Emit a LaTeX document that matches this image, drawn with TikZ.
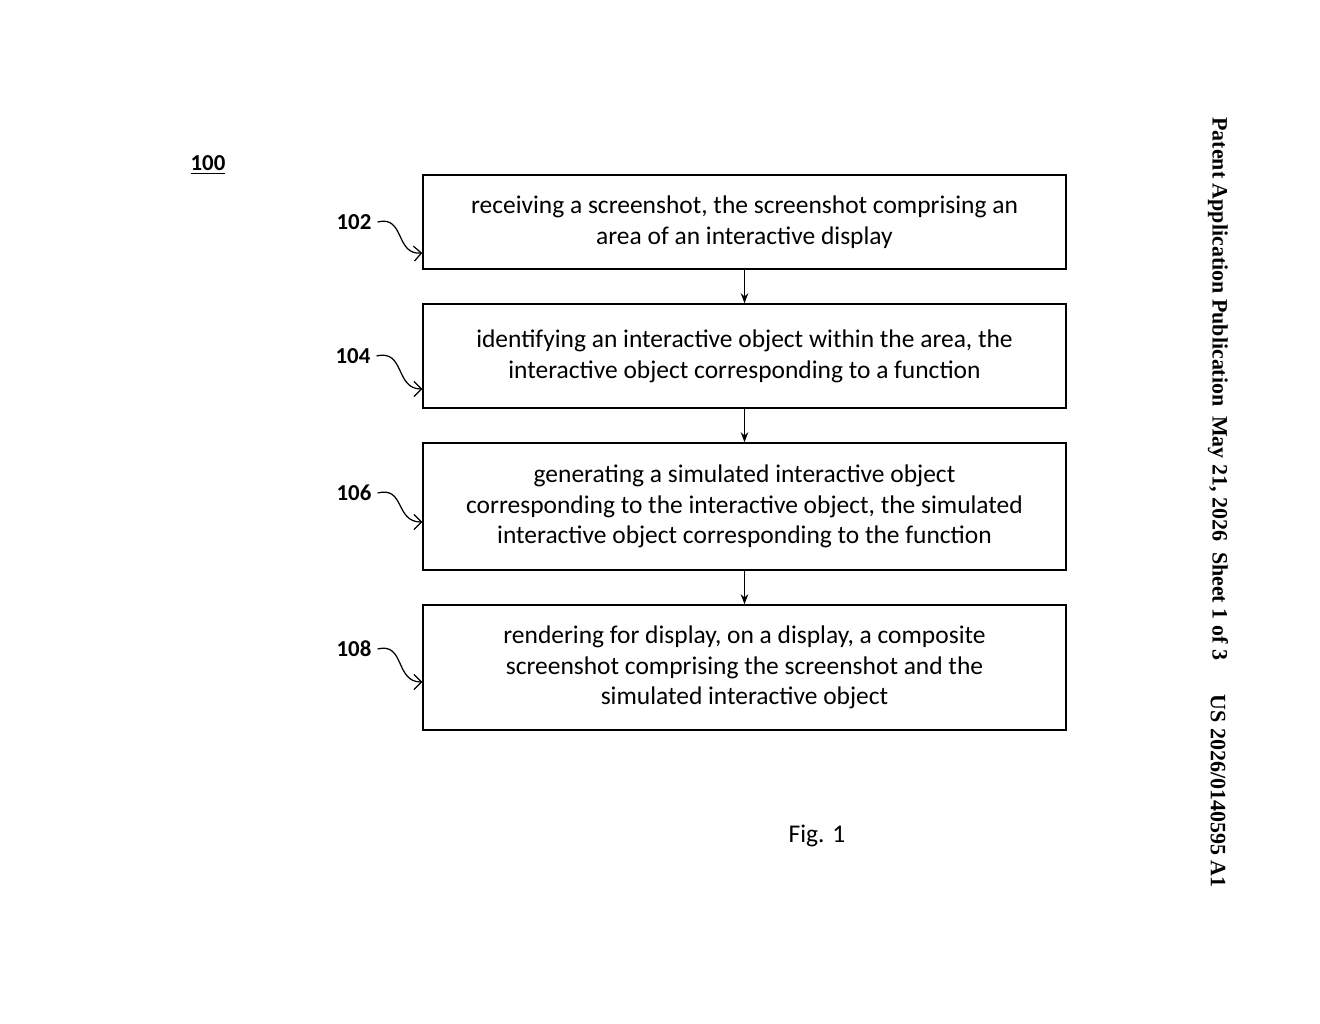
\documentclass[tikz,border=0pt]{standalone}
\usepackage{fontspec}
\setmainfont{Carlito}
\newfontfamily\hdrfont{Liberation Serif}
\usetikzlibrary{arrows.meta,positioning}
\begin{document}
\begin{tikzpicture}[x=0.02cm,y=-0.02cm]
\tikzstyle{stepbox} = [draw, line width=0.9pt, minimum width=12.86cm, align=center, font=\fontsize{14.5}{17.5}\selectfont, inner sep=0pt]
\tikzstyle{tag} = [font=\bfseries\fontsize{13}{15}\selectfont]
\tikzstyle{lead} = [-{Straight Barb[length=1.5mm]}, line width=0.7pt]
\useasboundingbox (0,0) rectangle (1320,1024);
% boxes
\node[stepbox, minimum height=94*0.02cm] (s1) at (744.5,222) {receiving a screenshot, the screenshot comprising an\\area of an interactive display};
\node[stepbox, minimum height=104*0.02cm] (s2) at (744.5,356) {identifying an interactive object within the area, the\\interactive object corresponding to a function};
\node[stepbox, minimum height=127*0.02cm] (s3) at (744.5,506.5) {generating a simulated interactive object\\corresponding to the interactive object, the simulated\\interactive object corresponding to the function};
\node[stepbox, minimum height=125*0.02cm] (s4) at (744.5,667.5) {rendering for display, on a display, a composite\\screenshot comprising the screenshot and the\\simulated interactive object};
\draw[-{Stealth[length=2mm]}, line width=0.7pt] (s1) -- (s2);
\draw[-{Stealth[length=2mm]}, line width=0.7pt] (s2) -- (s3);
\draw[-{Stealth[length=2mm]}, line width=0.7pt] (s3) -- (s4);
% reference numerals
\node[tag] (n102) at (354,222) {102};
\node[tag] (n104) at (353,356) {104};
\node[tag] (n106) at (354,493) {106};
\node[tag] (n108) at (354,649) {108};
\draw[lead] (n102.east) .. controls (405,215) and (395,255) .. (s1.west |- 0,253);
\draw[lead] (n104.east) .. controls (405,349) and (395,389) .. (s2.west |- 0,389);
\draw[lead] (n106.east) .. controls (405,486) and (395,522) .. (s3.west |- 0,522);
\draw[lead] (n108.east) .. controls (405,642) and (395,682) .. (s4.west |- 0,682);
\node[tag] (n100) at (208,165) {\underline{100}};
\node[font=\fontsize{14.5}{17}\selectfont] (fig) at (817,836) {Fig. 1};
% header
\node[rotate=-90, font=\hdrfont\bfseries\fontsize{12.5}{14}\selectfont] (h1) at (1218,262) {Patent Application Publication};
\node[rotate=-90, font=\hdrfont\bfseries\fontsize{12.5}{14}\selectfont] (h2) at (1218,538) {May 21, 2026\ \ Sheet 1 of 3};
\node[rotate=-90, font=\hdrfont\bfseries\fontsize{12.5}{14}\selectfont] (h3) at (1218,791) {US 2026/0140595 A1};
\end{tikzpicture}
\end{document}
